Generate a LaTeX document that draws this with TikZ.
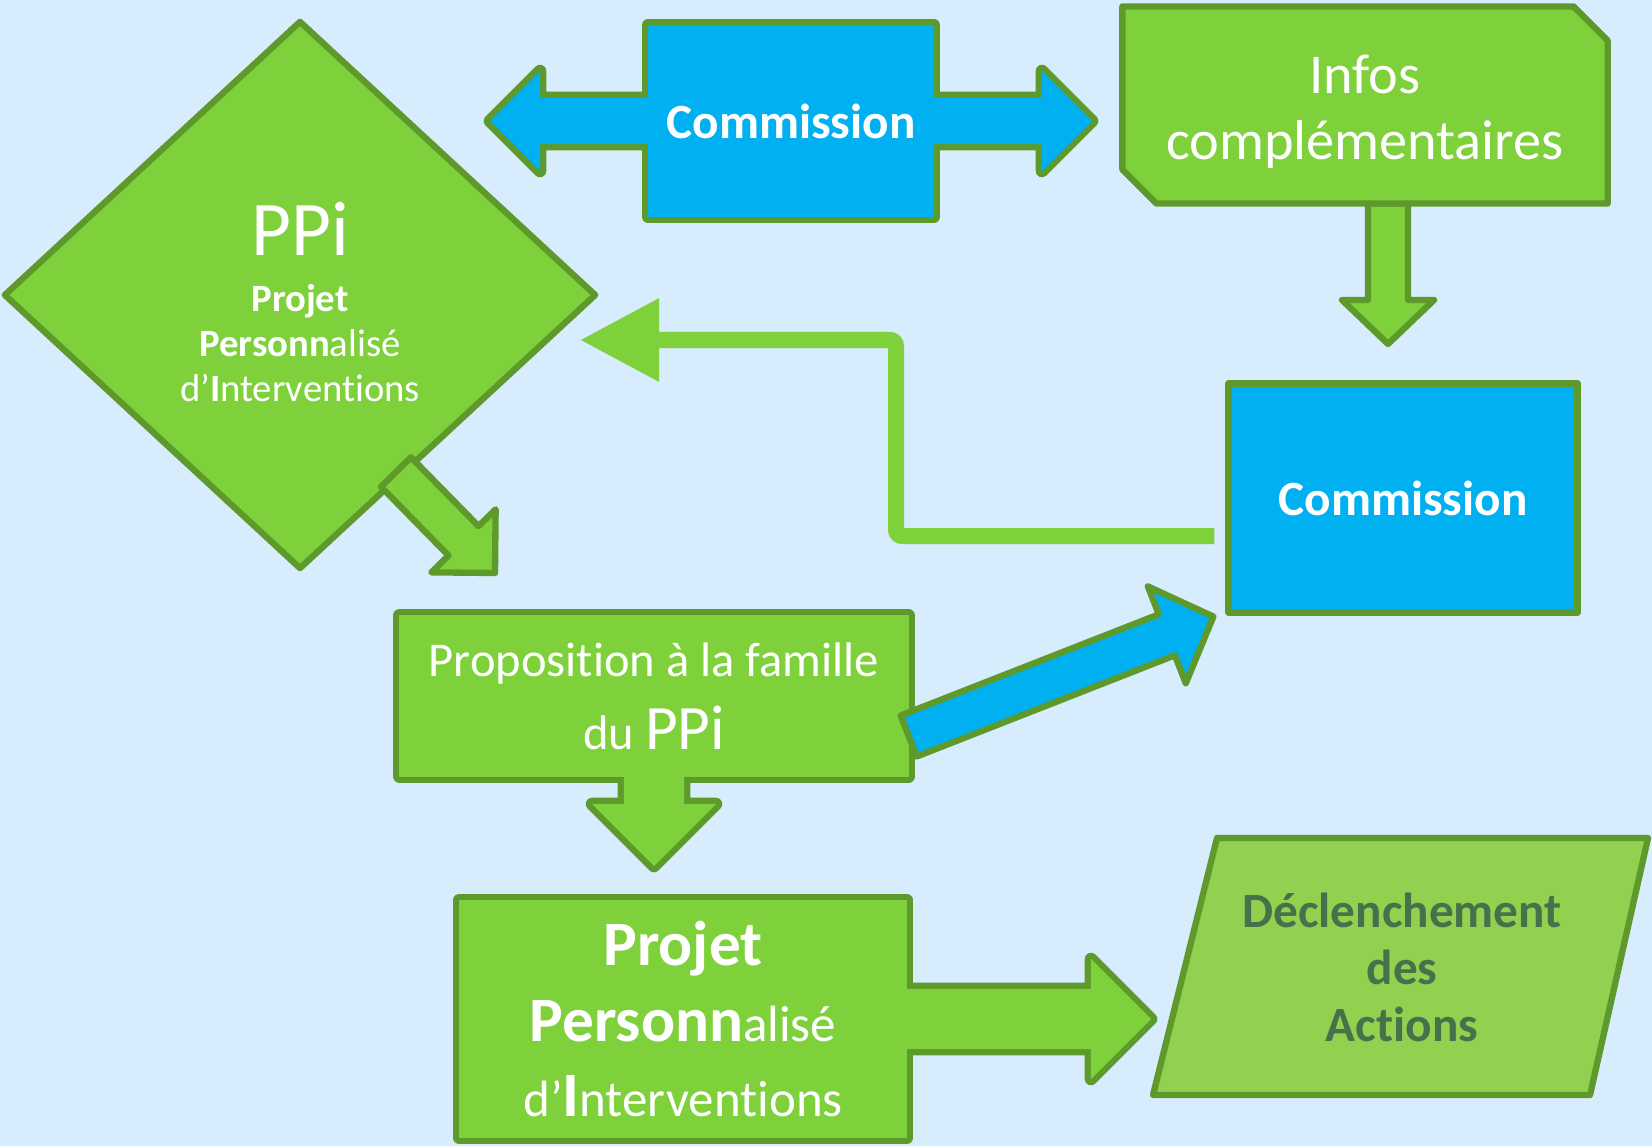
\documentclass[tikz,border=0pt]{standalone}
\usepackage{fontspec}
\setmainfont[Ligatures=NoCommon]{Carlito}
\usepackage{tikz}
\usetikzlibrary{calc, shapes.geometric, arrows.meta, backgrounds}
\definecolor{paleblue}{HTML}{D7ECFD}
\definecolor{limegreen}{HTML}{7ED13B}
\definecolor{bordergreen}{HTML}{5E9A2B}
\definecolor{skyblue}{HTML}{00B0F0}
\definecolor{softgreen}{HTML}{92D050}
\definecolor{darkgreen}{HTML}{46724B}
\tikzstyle{outline} = [draw=bordergreen, line width=1.8pt, line join=round]
\tikzstyle{fatline} = [draw=bordergreen, line width=3.6pt, line join=round]
\tikzstyle{txt} = [inner sep=0pt, outer sep=0pt, align=center, text=white]
\tikzstyle{feedback} = [draw=limegreen, line width=0.16cm, rounded corners=0.06cm, -{Triangle[length=0.79cm, width=0.79cm]}]
\newcommand{\bigbold}[1]{{\fontsize{18}{21.6}\selectfont\bfseries #1}}
% block arrow: style, tail, tip, half shaft, half head, head length
\newcommand{\blockarrow}[6]{%
  \coordinate (ba-base) at ($(#3)!#6!(#2)$);
  \path[#1] ($(#2)!#4!90:(#3)$) -- ($(ba-base)!#4!-90:(#2)$) -- ($(ba-base)!#5!-90:(#2)$) -- (#3)
    -- ($(ba-base)!#5!90:(#2)$) -- ($(ba-base)!#4!90:(#2)$) -- ($(#2)!#4!-90:(#3)$) -- cycle;
}

\begin{document}
\begin{tikzpicture}[x=0.01cm, y=-0.01cm]
	\useasboundingbox (0,0) rectangle (1652,1146);

	% boxes
	\node[diamond, outline, fill=limegreen, txt, minimum width=5.9cm, minimum height=5.46cm,
		font=\fontsize{11}{12.8}\selectfont] (ppi) at (300,295)
		{{\fontsize{22}{26}\selectfont\rule{0pt}{19pt}PPi}\\[3pt]\textbf{Projet}\\\textbf{Personn}alisé\\d’\textbf{I}nterventions};
	\node[txt, minimum width=2.86cm, minimum height=1.91cm, font=\fontsize{14}{16}\selectfont\bfseries] (comm1) at (791,121) {Commission};
	\node[txt, minimum width=4.85cm, minimum height=1.97cm, font=\fontsize{16}{18.7}\selectfont] (infos) at (1365,105)
		{\rule{0pt}{15pt}Infos\\complémentaires};
	\node[rectangle, outline, fill=skyblue, txt, minimum width=3.49cm, minimum height=2.29cm,
		font=\fontsize{14}{16}\selectfont\bfseries] (comm2) at (1403,498) {Commission};
	\node[txt, minimum width=5.09cm, minimum height=1.61cm, font=\fontsize{13.8}{20.8}\selectfont] (prop) at (654,696)
		{Proposition à la famille\\du {\fontsize{18}{20.8}\selectfont PPi}};
	\node[txt, minimum width=4.47cm, minimum height=2.38cm, font=\fontsize{14.5}{21.6}\selectfont] (projet) at (683,1019)
		{\bigbold{Projet}\\\bigbold{Personn}alisé\\d’\bigbold{I}nterventions};
	\node[txt, text=darkgreen, font=\fontsize{14}{16.2}\selectfont\bfseries] (decl) at (1402,967) {Déclenchement\\des\\Actions};

	% arrow ends
	\coordinate (comm1-left) at (490,121);
	\coordinate (comm1-right) at (1092,121);
	\coordinate (infos-out) at ([xshift=0.23cm]infos.south);
	\coordinate (infos-tip) at (1388,344);
	\coordinate (prop-tip) at (654,866);
	\coordinate (projet-tip) at (1151,1019);
	\coordinate (ppi-out) at (396,472);
	\coordinate (ppi-tip) at (495,573);
	\coordinate (prop-out) at ([yshift=-0.40cm]prop.east);
	\coordinate (comm2-in) at ([xshift=-0.15cm,yshift=-0.04cm]comm2.south west);
	\coordinate (fb-start) at ([xshift=-0.14cm,yshift=-0.38cm]comm2.west);
	\coordinate (fb-bend) at (896,340);
	\coordinate (fb-tip) at (580,340);

	\begin{scope}[on background layer]
		\fill[paleblue] (0,0) rectangle (1652,1146);
		% commission with its two arrows
		\draw[fatline] (comm1.north west) rectangle (comm1.south east);
		\blockarrow{fatline}{comm1.center}{comm1-left}{0.23cm}{0.5cm}{0.5cm}
		\blockarrow{fatline}{comm1.center}{comm1-right}{0.23cm}{0.5cm}{0.5cm}
		\fill[skyblue] (comm1.north west) rectangle (comm1.south east);
		\blockarrow{fill=skyblue}{comm1.center}{comm1-left}{0.23cm}{0.5cm}{0.5cm}
		\blockarrow{fill=skyblue}{comm1.center}{comm1-right}{0.23cm}{0.5cm}{0.5cm}
		% infos
		\blockarrow{outline, fill=limegreen}{infos-out}{infos-tip}{0.2cm}{0.46cm}{0.44cm}
		\draw[outline, fill=limegreen] (infos.north west) -- ([xshift=-0.34cm]infos.north east)
			-- ([yshift=-0.34cm]infos.north east) -- (infos.south east)
			-- ([xshift=0.34cm]infos.south west) -- ([yshift=0.34cm]infos.south west) -- cycle;
		% proposition
		\draw[fatline] (prop.north west) rectangle (prop.south east);
		\blockarrow{fatline}{prop.center}{prop-tip}{0.3cm}{0.62cm}{0.62cm}
		\fill[limegreen] (prop.north west) rectangle (prop.south east);
		\blockarrow{fill=limegreen}{prop.center}{prop-tip}{0.3cm}{0.62cm}{0.62cm}
		% projet
		\draw[fatline] (projet.north west) rectangle (projet.south east);
		\blockarrow{fatline}{projet.center}{projet-tip}{0.3cm}{0.6cm}{0.6cm}
		\fill[limegreen] (projet.north west) rectangle (projet.south east);
		\blockarrow{fill=limegreen}{projet.center}{projet-tip}{0.3cm}{0.6cm}{0.6cm}
		% actions
		\draw[outline, fill=softgreen, shift={(decl.center)}] (-185,-129) -- (246,-129) -- (188,128) -- (-249,128) -- cycle;
	\end{scope}

	% connectors
	\blockarrow{outline, fill=limegreen}{ppi-out}{ppi-tip}{0.21cm}{0.45cm}{0.45cm}
	\blockarrow{outline, fill=skyblue}{prop-out}{comm2-in}{0.22cm}{0.52cm}{0.5cm}
	\draw[feedback] (fb-start) -| (fb-bend) -- (fb-tip);
\end{tikzpicture}
\end{document}
